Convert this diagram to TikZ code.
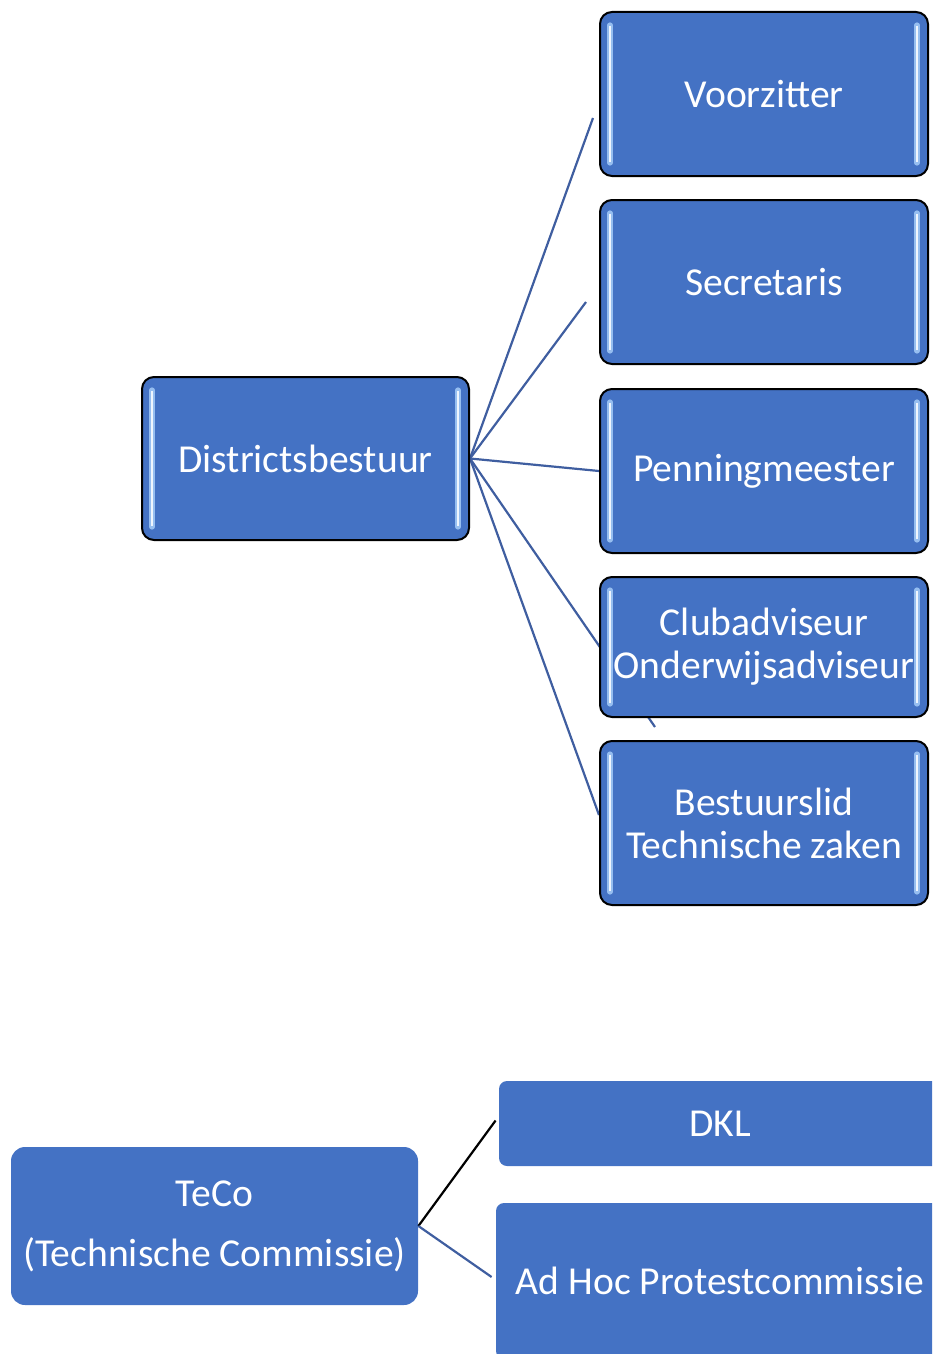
\documentclass[tikz,border=0pt]{standalone}
\usepackage{fontspec}
\setmainfont{Carlito}
\usepackage{xcolor}
\usepackage{tikz}
\usetikzlibrary{positioning, backgrounds}

\definecolor{officeblue}{RGB}{68,114,196}
\definecolor{linkblue}{RGB}{63,94,160}
\definecolor{glint}{RGB}{150,190,240}

\begin{document}
\begin{tikzpicture}[x=0.5pt, y=-0.5pt,
  role/.style={rectangle, draw=black, line width=1pt, rounded corners=6pt, fill=officeblue,
    text=white, font=\fontsize{19.8}{21.5}\selectfont, align=center, inner sep=0pt,
    minimum width=164pt, minimum height=#1,
    path picture={
      \draw[glint, line width=2.6pt, line cap=round]
        ([xshift=5pt, yshift=-6.5pt]path picture bounding box.north west) --
        ([xshift=5pt, yshift=6.5pt]path picture bounding box.south west);
      \draw[glint, line width=2.6pt, line cap=round]
        ([xshift=-5.5pt, yshift=-6.5pt]path picture bounding box.north east) --
        ([xshift=-5.5pt, yshift=6.5pt]path picture bounding box.south east);
      \draw[white!85!glint, line width=0.8pt]
        ([xshift=5pt, yshift=-7pt]path picture bounding box.north west) --
        ([xshift=5pt, yshift=7pt]path picture bounding box.south west);
      \draw[white!85!glint, line width=0.8pt]
        ([xshift=-5.5pt, yshift=-7pt]path picture bounding box.north east) --
        ([xshift=-5.5pt, yshift=7pt]path picture bounding box.south east);
    }},
  role/.default=82pt,
  flat/.style={rectangle, rounded corners=4pt, fill=officeblue, text=white,
    font=\fontsize{19.8}{30}\selectfont, align=center, inner sep=0pt},
  link/.style={linkblue, line width=1.1pt},
]
  \useasboundingbox (0,0) rectangle (932,1354);
  \clip (0,0) rectangle (932,1354);

  % Districtsbestuur and its members
  \node[role=81.5pt, minimum width=163.5pt] (db) at (305.5,458.5) {Districtsbestuur};
  \node[role] (vz) at (764,94) {Voorzitter};
  \node[role] (sec) at (764,282) {Secretaris};
  \node[role] (pen) at (764,471) {Penningmeester};
  \node[role=70pt] (club) at (764,647) {Clubadviseur\\Onderwijsadviseur};
  \node[role] (bst) at (764,823) {Bestuurslid\\Technische zaken};

  % loose ends
  \coordinate (vz-end) at (593,118);
  \coordinate (sec-end) at (586,302);
  \coordinate (club-end) at (655,727);

  \begin{scope}[on background layer]
    \draw[link] (db.east) -- (vz-end);
    \draw[link] (db.east) -- (sec-end);
    \draw[link] (db.east) -- (pen.west);
    \draw[link] (db.east) -- (club-end);
    \draw[link] (db.east) -- ([yshift=4pt]bst.west);
  \end{scope}

  % TeCo
  \node[flat, rounded corners=7pt, minimum width=203.5pt, minimum height=79pt] (teco) at (214.5,1226) {TeCo\\(Technische Commissie)};
  \node[flat, minimum width=221pt, minimum height=42.5pt] (dkl) at (720,1123.5) {DKL};
  \node[flat, minimum width=224pt, minimum height=78pt] (adhoc) at (720,1281) {Ad Hoc Protestcommissie};

  \draw[black, line width=1.1pt] (teco.east) -- ([xshift=-1.5pt, yshift=1.5pt]dkl.west);
  \draw[link] (teco.east) -- ([xshift=-2pt, yshift=2pt]adhoc.west);

\end{tikzpicture}
\end{document}
